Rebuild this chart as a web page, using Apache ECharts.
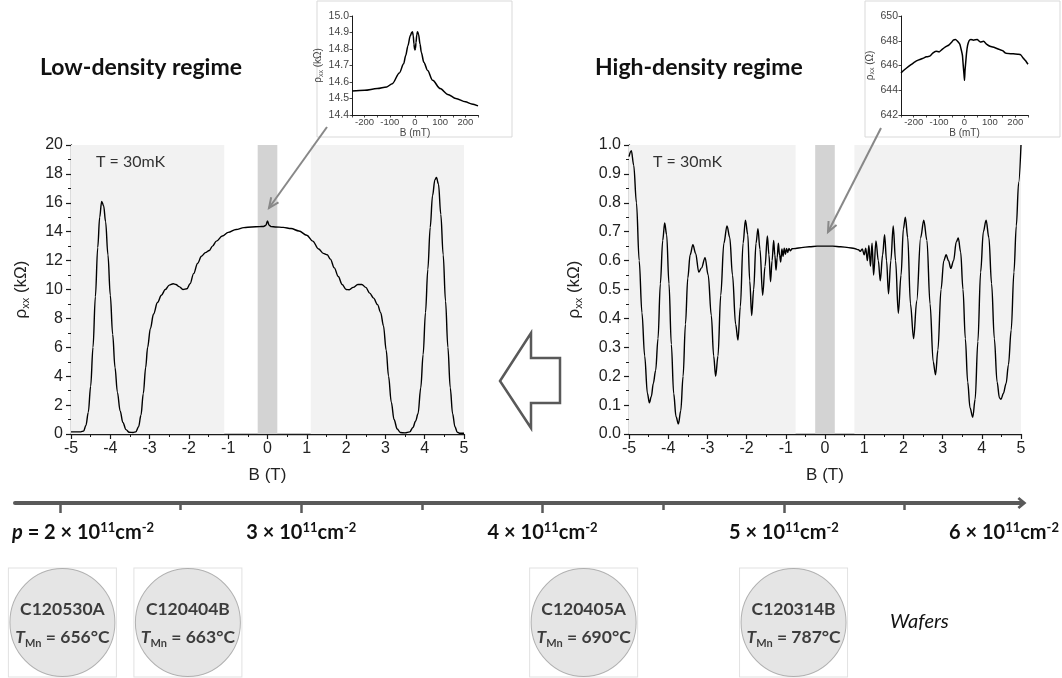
<!DOCTYPE html>
<html>
<head>
<meta charset="utf-8">
<script src="https://cdn.jsdelivr.net/npm/echarts@6/dist/echarts.min.js"></script>
<style>
  html, body { margin: 0; padding: 0; background: #ffffff; }
  #chart { width: 1062px; height: 678px; }
</style>
</head>
<body>
<div id="chart"></div>
<script>
// ---- Low-density wafer: rho_xx (kOhm) versus B (T) at 30 mK ----
const bLow = [-5, -4.75, -4.68, -4.62, -4.56, -4.5, -4.44, -4.38, -4.32, -4.27, -4.22, -4.17, -4.12, -4.06, -4.0,
  -3.94, -3.88, -3.82, -3.75, -3.68, -3.6, -3.52, -3.42, -3.35, -3.28, -3.22, -3.16, -3.1, -3.05, -2.98, -2.9,
  -2.8, -2.7, -2.6, -2.5, -2.4, -2.33, -2.25, -2.15, -2.05, -1.97, -1.88, -1.78, -1.68, -1.58, -1.48, -1.4, -1.3,
  -1.15, -1.0, -0.8, -0.6, -0.4, -0.2, -0.1, -0.04, 0, 0.04, 0.1, 0.2, 0.4, 0.6, 0.8, 1.0, 1.15, 1.3, 1.42, 1.52,
  1.6, 1.7, 1.8, 1.9, 2.0, 2.08, 2.18, 2.3, 2.4, 2.5, 2.6, 2.7, 2.8, 2.88, 2.95, 3.02, 3.08, 3.15, 3.22, 3.3,
  3.38, 3.5, 3.62, 3.7, 3.77, 3.83, 3.9, 3.96, 4.02, 4.08, 4.14, 4.2, 4.26, 4.3, 4.35, 4.41, 4.47, 4.53, 4.59,
  4.65, 4.71, 4.77, 4.83, 4.9, 5];
const rhoLow = [0.15, 0.15, 0.2, 0.6, 1.5, 3.3, 6.0, 9.5, 12.9, 15.0, 16.1, 15.8, 14.7, 12.4, 9.6,
  6.9, 4.6, 2.9, 1.6, 0.8, 0.3, 0.12, 0.1, 0.15, 0.5, 1.3, 2.8, 4.6, 6.0, 7.3, 8.3,
  9.1, 9.6, 10.0, 10.3, 10.4, 10.35, 10.2, 10.0, 10.05, 10.4, 11.1, 11.8, 12.3, 12.55, 12.7, 13.0, 13.35,
  13.7, 13.95, 14.15, 14.28, 14.33, 14.35, 14.36, 14.45, 14.75, 14.45, 14.35, 14.33, 14.3, 14.22, 14.05, 13.75, 13.35, 12.8, 12.5, 12.4,
  12.1, 11.5, 10.9, 10.35, 10.0, 9.98, 10.15, 10.35, 10.35, 10.15, 9.75, 9.4, 8.95, 8.4, 7.5, 5.8, 4.0, 2.2, 1.0, 0.35,
  0.1, 0.08, 0.15, 0.45, 0.9, 1.4, 3.2, 5.5, 8.4, 11.4, 14.3, 16.5, 17.6, 17.75, 17.3, 15.2, 12.4, 9.2, 6.0,
  3.2, 1.4, 0.5, 0.12, 0.05, 0.05];

// ---- High-density wafer: rho_xx (kOhm) versus B (T) at 30 mK ----
const bHigh = [-5.0, -4.94, -4.88, -4.81, -4.74, -4.67, -4.6, -4.53, -4.48, -4.43, -4.38, -4.32, -4.26, -4.2, -4.14,
  -4.09, -4.04, -3.98, -3.92, -3.86, -3.8, -3.74, -3.68, -3.62, -3.56, -3.5, -3.44, -3.37, -3.3, -3.22, -3.15,
  -3.06, -2.98, -2.9, -2.84, -2.79, -2.73, -2.66, -2.58, -2.5, -2.43, -2.36, -2.28, -2.22, -2.16, -2.09, -2.03,
  -1.97, -1.92, -1.87, -1.82, -1.76, -1.71, -1.66, -1.59, -1.53, -1.47, -1.43, -1.39, -1.35, -1.31, -1.28, -1.25,
  -1.22, -1.19, -1.16, -1.13, -1.1, -1.07, -1.04, -1.01, -0.98, -0.95, -0.92, -0.88, -0.84, -0.75, -0.6, -0.4,
  -0.2, 0, 0.2, 0.4, 0.6, 0.75, 0.85, 0.9, 0.95, 1.0, 1.04, 1.08, 1.12, 1.16, 1.2, 1.24, 1.3, 1.36, 1.41, 1.47,
  1.52, 1.57, 1.62, 1.68, 1.74, 1.8, 1.87, 1.94, 2.0, 2.05, 2.11, 2.18, 2.26, 2.34, 2.44, 2.52, 2.6, 2.68, 2.76,
  2.82, 2.88, 2.96, 3.03, 3.09, 3.15, 3.21, 3.28, 3.35, 3.4, 3.46, 3.52, 3.58, 3.64, 3.7, 3.77, 3.83, 3.9, 3.97,
  4.04, 4.11, 4.18, 4.25, 4.32, 4.39, 4.45, 4.49, 4.55, 4.62, 4.68, 4.75, 4.82, 4.88, 4.94, 5.0];
const rhoHigh = [0.96, 0.98, 0.93, 0.8, 0.6, 0.42, 0.27, 0.14, 0.108, 0.13, 0.175, 0.22, 0.33, 0.52, 0.67,
  0.73, 0.69, 0.52, 0.31, 0.14, 0.06, 0.035, 0.08, 0.2, 0.38, 0.54, 0.62, 0.655, 0.625, 0.56, 0.575,
  0.61, 0.55, 0.41, 0.27, 0.2, 0.27, 0.48, 0.66, 0.72, 0.68, 0.55, 0.38, 0.325, 0.44, 0.66, 0.74,
  0.69, 0.53, 0.41, 0.5, 0.66, 0.71, 0.64, 0.48, 0.58, 0.685, 0.62, 0.527, 0.6, 0.67, 0.62, 0.567,
  0.61, 0.66, 0.62, 0.595, 0.64, 0.615, 0.643, 0.622, 0.642, 0.628, 0.642, 0.634, 0.641, 0.642, 0.645, 0.648,
  0.65, 0.65, 0.65, 0.648, 0.645, 0.642, 0.638, 0.632, 0.64, 0.62, 0.643, 0.6, 0.652, 0.58, 0.66, 0.55, 0.668, 0.6, 0.53, 0.62,
  0.69, 0.6, 0.485, 0.6, 0.72, 0.6, 0.418, 0.55, 0.71, 0.75, 0.68, 0.45, 0.33, 0.46, 0.68, 0.74, 0.67, 0.45, 0.25,
  0.205, 0.29, 0.5, 0.6, 0.62, 0.6, 0.573, 0.6, 0.665, 0.678, 0.63, 0.5, 0.33, 0.18, 0.09, 0.058, 0.12, 0.32, 0.56,
  0.7, 0.74, 0.68, 0.52, 0.33, 0.18, 0.125, 0.12, 0.14, 0.175, 0.24, 0.36, 0.56, 0.72, 0.87, 1.0];

// ---- Low-field detail, low density: rho_xx (kOhm) versus B (mT) ----
const bInsetLow = [-250, -200, -150, -112, -90, -62, -45, -37, -28, -19, -13, -10, -7, -4, -2, 0, 2, 4, 7, 10, 14,
  20, 25, 35, 50, 70, 100, 130, 162, 200, 225, 250];
const rhoInsetLow = [14.545, 14.55, 14.56, 14.57, 14.59, 14.655, 14.71, 14.76, 14.82, 14.88, 14.9, 14.905, 14.88,
  14.83, 14.8, 14.795, 14.805, 14.84, 14.885, 14.905, 14.89, 14.83, 14.78, 14.72, 14.67, 14.61, 14.56, 14.525,
  14.5, 14.48, 14.467, 14.455];

// ---- Low-field detail, high density: rho_xx (Ohm) versus B (mT) ----
const bInsetHigh = [-250, -240, -228, -212, -195, -180, -162, -150, -137, -125, -112, -100, -88, -75, -62, -50, -44,
  -35, -25, -18, -12, -8, -5, -2, 0, 2, 5, 8, 12, 18, 25, 35, 50, 62, 75, 88, 100, 118, 137, 150, 162, 187,
  212, 222, 231, 240, 250];
const rhoInsetHigh = [645.4, 645.6, 645.8, 646.05, 646.3, 646.45, 646.6, 646.7, 646.75, 647.0, 647.15, 647.1,
  647.3, 647.5, 647.65, 647.9, 648.06, 648.1, 647.9, 647.7, 647.2, 646.8, 646.0, 645.3, 644.8, 645.6, 646.3,
  647.0, 647.6, 648.0, 648.1, 648.05, 648.1, 647.9, 647.95, 647.7, 647.55, 647.45, 647.3, 647.2, 647.0, 646.95,
  646.9, 646.85, 646.6, 646.4, 646.1];

// ---- Shaded field windows (T) ----
const lowBands = [[-5, -1.1], [1.1, 5]];
const highBands = [[-5, -0.75], [0.75, 5]];
const zeroBand = [[-0.25, 0.25]];

// ---- Hole-density scale and wafers ----
const densityTicks = [2, 2.5, 3, 3.5, 4, 4.5, 5, 5.5];
const densityMajor = [2, 3, 4, 5];
const densityLabels = [
  { p: 2, n: '2', prefix: true },
  { p: 3, n: '3' },
  { p: 4, n: '4' },
  { p: 5, n: '5' },
  { p: 6, n: '6' }
];
const waferNames = ['C120530A', 'C120404B', 'C120405A', 'C120314B'];
const waferTemps = [656, 663, 690, 787];
const waferDensity = [2.01, 2.53, 4.17, 5.04];

const pair = (xs, ys) => xs.map((x, i) => [x, ys[i]]);
const bandData = (bands, color) => bands.map(b => [
  { xAxis: b[0], itemStyle: { color: color } }, { xAxis: b[1] }
]);

const AX = '#1a1a1a';
const SANS = 'Liberation Sans, Arial, sans-serif';
const CAL = 'Lato, Noto Sans, sans-serif';

function mainX(grid) {
  return {
    gridIndex: grid, type: 'value', min: -5, max: 5, interval: 1,
    name: 'B (T)', nameLocation: 'middle', nameGap: 33,
    nameTextStyle: { fontFamily: SANS, fontSize: 17, color: '#222' },
    axisLine: { show: true, onZero: false, lineStyle: { color: AX, width: 1.3 } },
    axisTick: { show: true, inside: false, length: 5, lineStyle: { color: AX, width: 1.2 } },
    minorTick: { show: true, splitNumber: 2, length: 3, lineStyle: { color: AX, width: 1 } },
    axisLabel: { fontFamily: SANS, fontSize: 16, color: '#222', margin: 7 },
    splitLine: { show: false }
  };
}
function mainY(grid, max, step, digits, unit, gap) {
  return {
    gridIndex: grid, type: 'value', min: 0, max: max, interval: step,
    name: '{r|\u03c1}{s|xx}{r| (' + unit + ')}', nameLocation: 'middle', nameGap: gap, nameRotate: 90,
    nameTextStyle: {
      color: '#222',
      rich: {
        r: { fontFamily: SANS, fontSize: 17, color: '#222', lineHeight: 20 },
        s: { fontFamily: SANS, fontSize: 11, color: '#222', lineHeight: 11, verticalAlign: 'bottom' }
      }
    },
    axisLine: { show: true, onZero: false, lineStyle: { color: AX, width: 1.3 } },
    axisTick: { show: true, inside: false, length: 5, lineStyle: { color: AX, width: 1.2 } },
    minorTick: { show: true, splitNumber: 2, length: 3, lineStyle: { color: AX, width: 1 } },
    axisLabel: {
      fontFamily: SANS, fontSize: 16, color: '#222', margin: 8,
      formatter: v => v.toFixed(digits)
    },
    splitLine: { show: false }
  };
}
function insetX(grid) {
  return {
    gridIndex: grid, type: 'value', min: -250, max: 250, interval: 50,
    name: 'B (mT)', nameLocation: 'middle', nameGap: 11,
    nameTextStyle: { fontFamily: SANS, fontSize: 10, color: '#444' },
    axisLine: { show: true, onZero: false, lineStyle: { color: AX, width: 1 } },
    axisTick: { show: true, length: 2.5, lineStyle: { color: AX, width: 0.8 } },
    axisLabel: {
      fontFamily: SANS, fontSize: 9.5, color: '#444', margin: 2,
      formatter: v => (Math.round(v) % 100 === 0 ? String(Math.round(v)) : '')
    },
    splitLine: { show: false }
  };
}
function insetY(grid, min, max, step, digits, unit, gap) {
  return {
    gridIndex: grid, type: 'value', min: min, max: max, interval: step,
    name: '{r|\u03c1}{s|xx}{r| (' + unit + ')}', nameLocation: 'middle', nameGap: gap, nameRotate: 90,
    nameTextStyle: {
      rich: {
        r: { fontFamily: SANS, fontSize: 10, color: '#444', lineHeight: 12 },
        s: { fontFamily: SANS, fontSize: 7, color: '#444', lineHeight: 7, verticalAlign: 'bottom' }
      }
    },
    axisLine: { show: true, onZero: false, lineStyle: { color: AX, width: 1 } },
    axisTick: { show: true, length: 2.5, lineStyle: { color: AX, width: 0.8 } },
    axisLabel: {
      fontFamily: SANS, fontSize: 10.5, color: '#444', margin: 3,
      formatter: v => v.toFixed(digits)
    },
    splitLine: { show: false }
  };
}

const DMIN = 1.8135, DMAX = 5.9867;

const chart = echarts.init(document.getElementById('chart'), null, { renderer: 'canvas' });

const option = {
  animation: false,
  backgroundColor: '#ffffff',
  grid: [
    { left: 71, top: 145, width: 393, height: 289 },
    { left: 629, top: 145, width: 392, height: 289 },
    { left: 352, top: 16, width: 126, height: 99 },
    { left: 901, top: 16, width: 127, height: 99 },
    { left: 15, top: 480, width: 1007, height: 23 },
    { left: 15, top: 568, width: 1007, height: 109 }
  ],
  xAxis: [
    mainX(0),
    mainX(1),
    insetX(2),
    insetX(3),
    {
      gridIndex: 4, type: 'value', min: DMIN, max: DMAX,
      axisLine: {
        show: true, onZero: false,
        symbol: ['none', 'path://M0,12 L10,0 L20,12 L16.5,14.8 L10,7 L3.5,14.8 Z'],
        symbolSize: [17, 9], symbolOffset: [0, 0],
        lineStyle: { color: '#595959', width: 4 }
      },
      axisTick: {
        show: true, length: 10, customValues: densityMajor,
        lineStyle: { color: '#595959', width: 2.5 }
      },
      axisLabel: { show: false },
      splitLine: { show: false }
    },
    {
      gridIndex: 4, type: 'value', min: DMIN, max: DMAX, position: 'bottom',
      axisLine: { show: false },
      axisTick: {
        show: true, length: 7, customValues: densityTicks.filter(v => densityMajor.indexOf(v) < 0),
        lineStyle: { color: '#595959', width: 2.5 }
      },
      axisLabel: { show: false },
      splitLine: { show: false }
    },
    { gridIndex: 5, type: 'value', min: DMIN, max: DMAX, show: false }
  ],
  yAxis: [
    mainY(0, 20, 2, 0, 'k\u03a9', 40),
    mainY(1, 1, 0.1, 1, 'k\u03a9', 45),
    insetY(2, 14.4, 15.0, 0.1, 1, 'k\u03a9', 25),
    insetY(3, 642, 650, 2, 0, '\u03a9', 25),
    { gridIndex: 4, type: 'value', min: 0, max: 1, show: false },
    { gridIndex: 5, type: 'value', min: 0, max: 1, show: false }
  ],
  series: [
    {
      type: 'line', xAxisIndex: 0, yAxisIndex: 0, data: pair(bLow, rhoLow),
      smooth: 0.35, smoothMonotone: 'x', showSymbol: false, silent: true,
      lineStyle: { color: '#000', width: 1.4 },
      markArea: {
        silent: true,
        data: bandData(lowBands, '#f2f2f2').concat(bandData(zeroBand, '#d3d3d3'))
      }
    },
    {
      type: 'line', xAxisIndex: 1, yAxisIndex: 1, data: pair(bHigh, rhoHigh),
      smooth: 0.35, smoothMonotone: 'x', showSymbol: false, silent: true,
      lineStyle: { color: '#000', width: 1.4 },
      markArea: {
        silent: true,
        data: bandData(highBands, '#f2f2f2').concat(bandData(zeroBand, '#d3d3d3'))
      }
    },
    {
      type: 'line', xAxisIndex: 2, yAxisIndex: 2, data: pair(bInsetLow, rhoInsetLow),
      smooth: 0.3, smoothMonotone: 'x', showSymbol: false, silent: true,
      lineStyle: { color: '#000', width: 1.5 }
    },
    {
      type: 'line', xAxisIndex: 3, yAxisIndex: 3, data: pair(bInsetHigh, rhoInsetHigh),
      smooth: 0.15, showSymbol: false, silent: true,
      lineStyle: { color: '#000', width: 1.5 }
    },
    {
      type: 'scatter', xAxisIndex: 6, yAxisIndex: 5, silent: true,
      symbol: 'rect', symbolSize: [108, 109],
      itemStyle: { color: '#ffffff', borderColor: '#d9d9d9', borderWidth: 1 },
      data: waferDensity.map(p => [p, 0.5])
    },
    {
      type: 'scatter', xAxisIndex: 6, yAxisIndex: 5, silent: true,
      symbol: 'circle', symbolSize: [105, 108],
      itemStyle: { color: '#dedede', borderColor: '#a0a0a0', borderWidth: 1 },
      data: waferDensity.map(p => [p, 0.5]),
      label: {
        show: true, position: 'inside', offset: [0, -2],
        formatter: params => '{h|' + waferNames[params.dataIndex] + '}\n{t|T}{s|Mn}{b| = ' +
          waferTemps[params.dataIndex] + '\u00b0C}',
        rich: {
          h: { fontFamily: CAL, fontWeight: 'bold', fontSize: 17.5, color: '#111', lineHeight: 34 },
          b: { fontFamily: CAL, fontWeight: 'bold', fontSize: 17.5, color: '#111', lineHeight: 22 },
          t: { fontFamily: CAL, fontWeight: 'bold', fontStyle: 'italic', fontSize: 17.5, color: '#111', lineHeight: 22 },
          s: { fontFamily: CAL, fontWeight: 'bold', fontSize: 11, color: '#111', lineHeight: 13, verticalAlign: 'bottom' }
        }
      }
    }
  ]
};
chart.setOption(option);

// ---- Annotations: titles, insets, pointers, density labels ----
function pointer(x1, y1, x2, y2) {
  const ang = Math.atan2(y2 - y1, x2 - x1), L = 11, a = 0.42;
  return [
    { type: 'line', z: 50, shape: { x1, y1, x2, y2 }, style: { stroke: '#888', lineWidth: 2 } },
    {
      type: 'polyline', z: 50,
      shape: { points: [[x2 - L * Math.cos(ang - a), y2 - L * Math.sin(ang - a)], [x2, y2],
        [x2 - L * Math.cos(ang + a), y2 - L * Math.sin(ang + a)]] },
      style: { stroke: '#888', lineWidth: 2, fill: null }
    }
  ];
}

const dy = chart.convertToPixel({ yAxisIndex: 4 }, 0) + 30;
const densityText = densityLabels.map(d => {
  let x = chart.convertToPixel({ xAxisIndex: 4 }, d.p);
  const body = '{n|' + d.n + ' \u00d7 10}{u|11}{n|cm}{u|-2}';
  const text = d.prefix ? '{i|p}{n| = }' + body : body;
  let align = 'center';
  if (d.prefix) { x = x - 48; align = 'left'; }
  if (d.p === 6) { x = 1059; align = 'right'; }
  return {
    type: 'text', x: x, y: dy, z: 20,
    style: {
      text: text, align: align, verticalAlign: 'middle',
      rich: {
        n: { fontFamily: CAL, fontWeight: 'bold', fontSize: 20, fill: '#111', lineHeight: 24 },
        i: { fontFamily: CAL, fontWeight: 'bold', fontStyle: 'italic', fontSize: 20, fill: '#111', lineHeight: 24 },
        u: { fontFamily: CAL, fontWeight: 'bold', fontSize: 13, fill: '#111', lineHeight: 15, verticalAlign: 'top' }
      }
    }
  };
});

chart.setOption({
  graphic: [
    { type: 'rect', z: -10, shape: { x: 317, y: 1, width: 195, height: 136 },
      style: { fill: '#fff', stroke: '#d9d9d9', lineWidth: 1 } },
    { type: 'rect', z: -10, shape: { x: 865, y: 1, width: 195, height: 136 },
      style: { fill: '#fff', stroke: '#d9d9d9', lineWidth: 1 } },
    { type: 'text', x: 40, y: 68, style: { text: 'Low-density regime', fontFamily: CAL, fontWeight: 'bold',
      fontSize: 23, fill: '#111', verticalAlign: 'middle' } },
    { type: 'text', x: 595, y: 68, style: { text: 'High-density regime', fontFamily: CAL, fontWeight: 'bold',
      fontSize: 23, fill: '#111', verticalAlign: 'middle' } },
    { type: 'text', x: 96, y: 162, z: 20, style: { text: 'T = 30mK', fontFamily: CAL, fontSize: 16,
      fill: '#333', verticalAlign: 'middle' } },
    { type: 'text', x: 653, y: 162, z: 20, style: { text: 'T = 30mK', fontFamily: CAL, fontSize: 16,
      fill: '#333', verticalAlign: 'middle' } },
    { type: 'polygon', z: 20,
      shape: { points: [[500, 381], [531, 333], [531, 358], [560, 358], [560, 403], [531, 403], [531, 428]] },
      style: { fill: '#fff', stroke: '#595959', lineWidth: 2.5 } },
    { type: 'text', x: 890, y: 622, style: { text: 'Wafers', fontFamily: CAL, fontStyle: 'italic',
      fontSize: 20, fill: '#111', verticalAlign: 'middle' } }
  ]
    .concat(pointer(327, 127, 269, 208))
    .concat(pointer(881, 128, 828, 232))
    .concat(densityText)
});
</script>
</body>
</html>
